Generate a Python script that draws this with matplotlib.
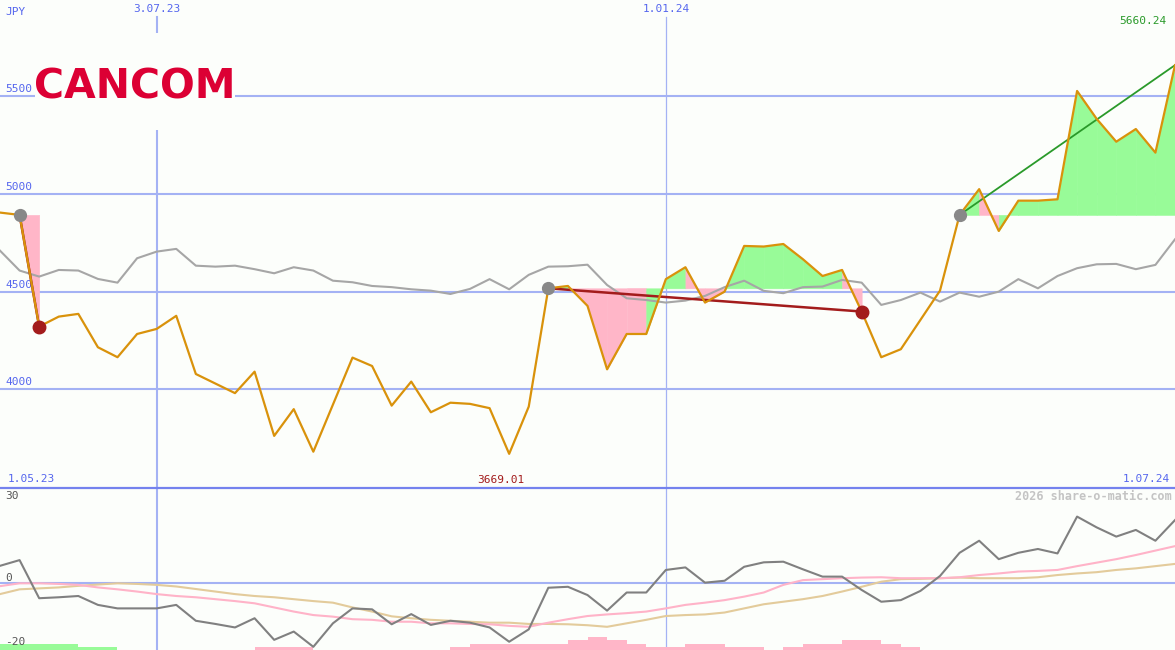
import matplotlib
matplotlib.use("Agg")
import matplotlib.pyplot as plt
from matplotlib.patches import Rectangle
from matplotlib.lines import Line2D
import numpy as np

# weekly closes, 8.05.23 .. 1.07.24 (61 weeks)
price = [4905, 4893, 4321, 4372, 4386, 4215, 4164, 4283, 4309, 4376,
         4078, 4029, 3980, 4090, 3761, 3898, 3680, 3921, 4162, 4119,
         3916, 4039, 3882, 3931, 3925, 3903, 3669.01, 3911, 4517, 4529,
         4427, 4102, 4283, 4283, 4564, 4625, 4444, 4500, 4734, 4731,
         4744, 4666, 4580, 4611, 4398, 4164, 4205, 4355, 4505, 4893,
         5025, 4811, 4966, 4966, 4973, 5528, 5385, 5268, 5333, 5212, 5660.24]

avg_line = [4710, 4608, 4577, 4611, 4608, 4565, 4546, 4671, 4705, 4719,
            4633, 4628, 4633, 4615, 4594, 4625, 4608, 4556, 4548, 4529,
            4523, 4512, 4505, 4488, 4514, 4564, 4512, 4586, 4628, 4630,
            4638, 4534, 4466, 4457, 4444, 4454, 4478, 4523, 4556, 4504,
            4492, 4523, 4526, 4560, 4546, 4432, 4457, 4495, 4449, 4495,
            4474, 4500, 4564, 4517, 4580, 4620, 4640, 4642, 4615, 4637, 4768]

# lower panel indicators
momentum = [5.5, 7.3, -4.7, -4.4, -4.0, -6.8, -7.9, -7.9, -7.9, -6.8,
            -11.8, -12.8, -13.9, -11.0, -17.8, -15.2, -20.0, -12.6, -7.9, -8.2,
            -12.9, -9.7, -13.1, -11.8, -12.4, -13.9, -18.4, -14.5, -1.4, -1.1,
            -3.7, -8.6, -2.9, -2.9, 4.2, 5.0, 0.2, 0.8, 5.2, 6.6,
            6.8, 4.4, 2.1, 2.1, -2.1, -5.8, -5.3, -2.4, 2.3, 9.6,
            13.4, 7.6, 9.6, 10.8, 9.4, 21.0, 17.6, 14.7, 16.8, 13.4, 19.9]

signal_fast = [-0.9, 0.0, 0.0, -0.2, -0.5, -1.3, -1.9, -2.6, -3.4, -4.0,
               -4.4, -5.0, -5.6, -6.3, -7.6, -8.9, -10.0, -10.5, -11.3, -11.5,
               -12.1, -12.1, -12.6, -12.6, -12.8, -12.9, -13.4, -13.7, -12.4, -11.3,
               -10.3, -9.8, -9.4, -8.9, -7.9, -6.8, -6.1, -5.3, -4.2, -2.9,
               -0.5, 1.0, 1.3, 1.6, 1.8, 1.9, 1.6, 1.6, 1.6, 1.9,
               2.6, 3.1, 3.7, 3.9, 4.2, 5.4, 6.5, 7.6, 8.9, 10.3, 11.7]

signal_slow = [-3.4, -1.9, -1.6, -1.3, -0.8, -0.4, 0.0, -0.2, -0.5, -1.0,
               -1.8, -2.6, -3.4, -4.0, -4.4, -5.0, -5.6, -6.1, -7.6, -8.9,
               -10.4, -11.0, -11.5, -11.8, -12.1, -12.4, -12.4, -12.8, -12.8, -12.9,
               -13.2, -13.7, -12.6, -11.5, -10.3, -10.0, -9.8, -9.2, -7.9, -6.6,
               -5.8, -5.0, -4.0, -2.6, -1.1, 0.5, 1.3, 1.4, 1.6, 1.8,
               1.6, 1.6, 1.6, 1.9, 2.6, 3.1, 3.5, 4.2, 4.7, 5.4, 6.1]

# histogram steps (+ green, - pink), one per week interval
hist = [2, 2, 2, 2, 1, 1, 0, 0, 0, 0,
        0, 0, 0, -1, -1, -1, 0, 0, 0, 0,
        0, 0, 0, -1, -2, -2, -2, -2, -2, -3,
        -4, -3, -2, -1, -1, -2, -2, -1, -1, 0,
        -1, -2, -2, -3, -3, -2, -1, 0, 0, 0,
        0, 0, 0, 0, 0, 0, 0, 0, 0, 0]

# trade signals: start week, end week
sig_start = [1, 28, 49]
sig_end = [2, 44, 60]
sig_closed = [True, True, False]

price_ticks = [4000, 4500, 5000, 5500]
date_ticks = [8, 34]
date_labels = ["3.07.23", "1.01.24"]
low_ticks = [30, 0, -20]

BG = "#fcfefb"
GRID = "#a4b2f4"
BLUE_TXT = "#5566ee"
ORANGE = "#d9920b"
PINK = "#ffb6c8"
GREEN = "#98fb98"
DARKRED = "#a31c1c"
W, H = 1175, 650

fig = plt.figure(figsize=(W / 100, H / 100), dpi=100, facecolor=BG)
top_h = 488
ax = fig.add_axes([0, (H - top_h) / H, 1, top_h / H])
axl = fig.add_axes([0, 0, 1, (H - top_h) / H])
for a in (ax, axl):
    a.set_facecolor("none")
    a.set_xticks([])
    a.set_yticks([])
    for s in a.spines.values():
        s.set_visible(False)
    a.set_xlim(0, len(price) - 1)

ax.set_ylim(3494, 5994)
axl.set_ylim(-21, 30)

x = np.arange(len(price))
p = np.array(price)

# grid
for t in price_ticks:
    ax.axhline(t, color=GRID, lw=1.5, zorder=1)
    ax.text(5 / W, t + 10, str(t), transform=ax.get_yaxis_transform(),
            color=BLUE_TXT, fontsize=8, family="DejaVu Sans Mono", va="bottom")
ax.axvline(date_ticks[0], ymin=0, ymax=(top_h - 17) / top_h, color=GRID, lw=1.5, zorder=1)
ax.axvline(date_ticks[1], ymin=0, ymax=(top_h - 17) / top_h, color=GRID, lw=0.9, zorder=1)
axl.axvline(date_ticks[0], color=GRID, lw=1.5, zorder=1)
axl.axvline(date_ticks[1], color=GRID, lw=0.9, zorder=1)
for d, lab in zip(date_ticks, date_labels):
    ax.text(d, (top_h - 9) / top_h, lab, transform=ax.get_xaxis_transform(),
            color=BLUE_TXT, fontsize=8, family="DejaVu Sans Mono", ha="center", va="center")
ax.text(5 / W, (top_h - 12) / top_h, "JPY", transform=ax.transAxes,
        color=BLUE_TXT, fontsize=8, family="DejaVu Sans Mono", va="center")

# signal fills
for s, e in zip(sig_start, sig_end):
    level = p[s]
    for k in range(s, e):
        col = GREEN if p[k + 1] > level else PINK
        ax.fill_between(x[k:k + 2], p[k:k + 2], level, facecolor=col,
                        edgecolor=col, lw=0.4, zorder=2)

ax.plot(x, avg_line, color="#a6a6a6", lw=1.5, zorder=3)

for s, e, closed in zip(sig_start, sig_end, sig_closed):
    col = DARKRED if p[e] < p[s] else "#2a9a2a"
    ax.plot([s, e], [p[s], p[e]], color=col, lw=1.8 if col == DARKRED else 1.3, zorder=4)

ax.plot(x, p, color=ORANGE, lw=1.6, zorder=5)

for s, e, closed in zip(sig_start, sig_end, sig_closed):
    ax.plot(s, p[s], "o", color="#888888", ms=8.5, zorder=6)
    if closed:
        ax.plot(e, p[e], "o", color=DARKRED, ms=9, zorder=6)

# min / max / range labels
imin = int(np.argmin(p))
ax.text(imin - 0.4, 8 / top_h, f"{p[imin]:.2f}", transform=ax.get_xaxis_transform(),
        color=DARKRED, fontsize=8, family="DejaVu Sans Mono", ha="center", va="center")
ax.text(len(p) - 1.45, (top_h - 21) / top_h, f"{p[-1]:.2f}", transform=ax.get_xaxis_transform(),
        color="#2a9a2a", fontsize=8, family="DejaVu Sans Mono", ha="right", va="center")
ax.text(8 / W, 9 / top_h, "1.05.23", transform=ax.transAxes,
        color=BLUE_TXT, fontsize=8, family="DejaVu Sans Mono", va="center")
ax.text(1 - 5 / W, 9 / top_h, "1.07.24", transform=ax.transAxes,
        color=BLUE_TXT, fontsize=8, family="DejaVu Sans Mono", ha="right", va="center")

# lower panel
axl.axhline(0, color=GRID, lw=1.5, zorder=1)
hx = np.arange(len(hist))
hv = np.array(hist)
axl.bar(hx, np.abs(hv), width=1.0, align="edge", bottom=-21,
        color=[GREEN if v > 0 else PINK for v in hv], lw=0, zorder=2)
axl.plot(x, signal_slow, color="#e3cb9b", lw=1.5, zorder=3)
axl.plot(x, signal_fast, color="#ffb3c8", lw=1.5, zorder=3)
axl.plot(x, momentum, color="#808080", lw=1.5, zorder=4)
lbl_y = {30: 496, 0: 578, -20: 642}
for t in low_ticks:
    fig.text(5 / W, 1 - lbl_y[t] / H, str(t), color="#555555", fontsize=8,
             family="DejaVu Sans Mono", va="center")
fig.text(1 - 3 / W, 1 - 496 / H, "2026 share-o-matic.com", color="#c4c4c4", fontsize=8.5,
         family="DejaVu Sans Mono", fontweight="bold", ha="right", va="center")

# separator
fig.add_artist(Line2D([0, 1], [1 - 487.5 / H] * 2, color="#7482ee", lw=1.6, zorder=5))

# logo
fig.add_artist(Rectangle((35 / W, 1 - 130 / H), 200 / W, 97 / H, transform=fig.transFigure,
                         facecolor=BG, edgecolor="none", zorder=5))
fig.text(135 / W, 1 - 98.5 / H, "CANCOM", color="#dc0034", fontsize=29.5, fontweight="bold",
         family="DejaVu Sans", ha="center", va="baseline", zorder=6)

fig.savefig("out.png", dpi=100, facecolor=BG)
